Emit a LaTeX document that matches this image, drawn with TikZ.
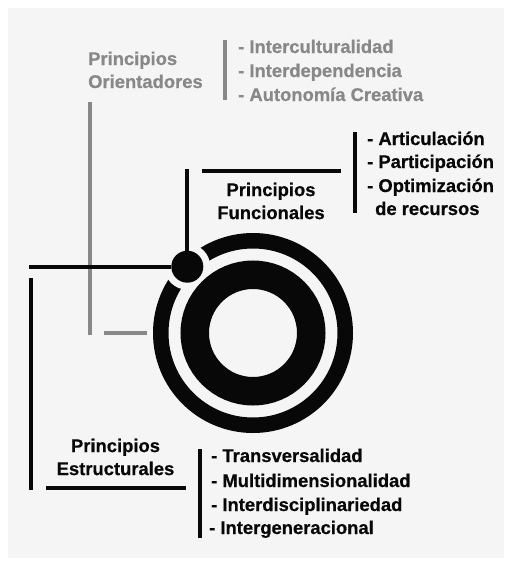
\documentclass[tikz,border=0pt]{standalone}
\usepackage{fontspec}
\setmainfont{Liberation Sans}[BoldFeatures={FakeBold=0.6}]
\definecolor{panel}{HTML}{F5F5F5}
\definecolor{softgray}{HTML}{888888}
\definecolor{ink}{HTML}{080808}
\begin{document}
\begin{tikzpicture}[x=1pt,y=-1pt,
  txt/.style={anchor=base west,inner sep=0pt,font=\bfseries\fontsize{18.4}{24}\selectfont},
  gtxt/.style={txt,text=softgray},
  btxt/.style={txt,text=ink},
  ctitle/.style={inner sep=0pt,align=center,text=ink,font=\bfseries\fontsize{18.4}{23}\selectfont},
  gline/.style={draw=softgray,line width=3.5pt},
  bline/.style={draw=ink,line width=4pt}]
\useasboundingbox (0,0) rectangle (504,562);
\fill[white] (0,0) rectangle (504,562);
\fill[panel] (8,8) rectangle (504,558);

% ---- rings
\coordinate (c) at (253,333);
\draw[ink,line width=15.5pt] (c) circle[radius=92.25];
\fill[panel] (187.3,266.7) circle[radius=23];
\draw[ink,line width=28.5pt] (c) circle[radius=58.25];
\node[circle,fill=ink,minimum size=32pt,inner sep=0pt] (dot) at (187.3,266.7) {};

% ---- Principios Orientadores (gray)
\node[gtxt] (o1) at (88,65) {Principios};
\node[gtxt] (o2) at (88,88) {Orientadores};
\node[gtxt] (oa) at (238,53) {- Interculturalidad};
\node[gtxt] (ob) at (238,77) {- Interdependencia};
\node[gtxt] (oc) at (238,101) {- Autonomía Creativa};
\coordinate (ovt) at (225,40); \coordinate (ovb) at (225,100);
\draw[gline] (ovt) -- (ovb);
\coordinate (gvt) at (90,102); \coordinate (gvb) at (90,335);
\draw[gline] (gvt) -- (gvb);
\coordinate (ghl) at (104,333); \coordinate (ghr) at (147,333);
\draw[gline] (ghl) -- (ghr);

% ---- Principios Funcionales
\node[ctitle] (ft) at (271,201) {Principios\\Funcionales};
\node[btxt] (fa) at (367,145) {- Articulación};
\node[btxt] (fb) at (367,168) {- Participación};
\node[btxt] (fc) at (367,192) {- Optimización};
\node[btxt] (fd) at (375,215) {de recursos};
\coordinate (fvt) at (355,132); \coordinate (fvb) at (355,213);
\draw[bline] (fvt) -- (fvb);
\coordinate (fhl) at (202,171); \coordinate (fhr) at (341,171);
\draw[bline] (fhl) -- (fhr);
\coordinate (dvt) at (187.3,169);
\draw[bline] (dvt) -- (dot);
\coordinate (dhl) at (29,266.7);
\draw[bline] (dhl) -- (dot);

% ---- Principios Estructurales
\coordinate (lvt) at (31,278); \coordinate (lvb) at (31,490);
\draw[bline] (lvt) -- (lvb);
\node[ctitle] (et) at (115.5,457) {Principios\\Estructurales};
\coordinate (ehl) at (46,488); \coordinate (ehr) at (186,488);
\draw[bline] (ehl) -- (ehr);
\coordinate (evt) at (200,449); \coordinate (evb) at (200,538);
\draw[bline] (evt) -- (evb);
\node[btxt] (ea) at (211,462) {- Transversalidad};
\node[btxt] (eb) at (211,487) {- Multidimensionalidad};
\node[btxt] (ec) at (211,511) {- Interdisciplinariedad};
\node[btxt] (ed) at (209,534) {- Intergeneracional};
\end{tikzpicture}
\end{document}
